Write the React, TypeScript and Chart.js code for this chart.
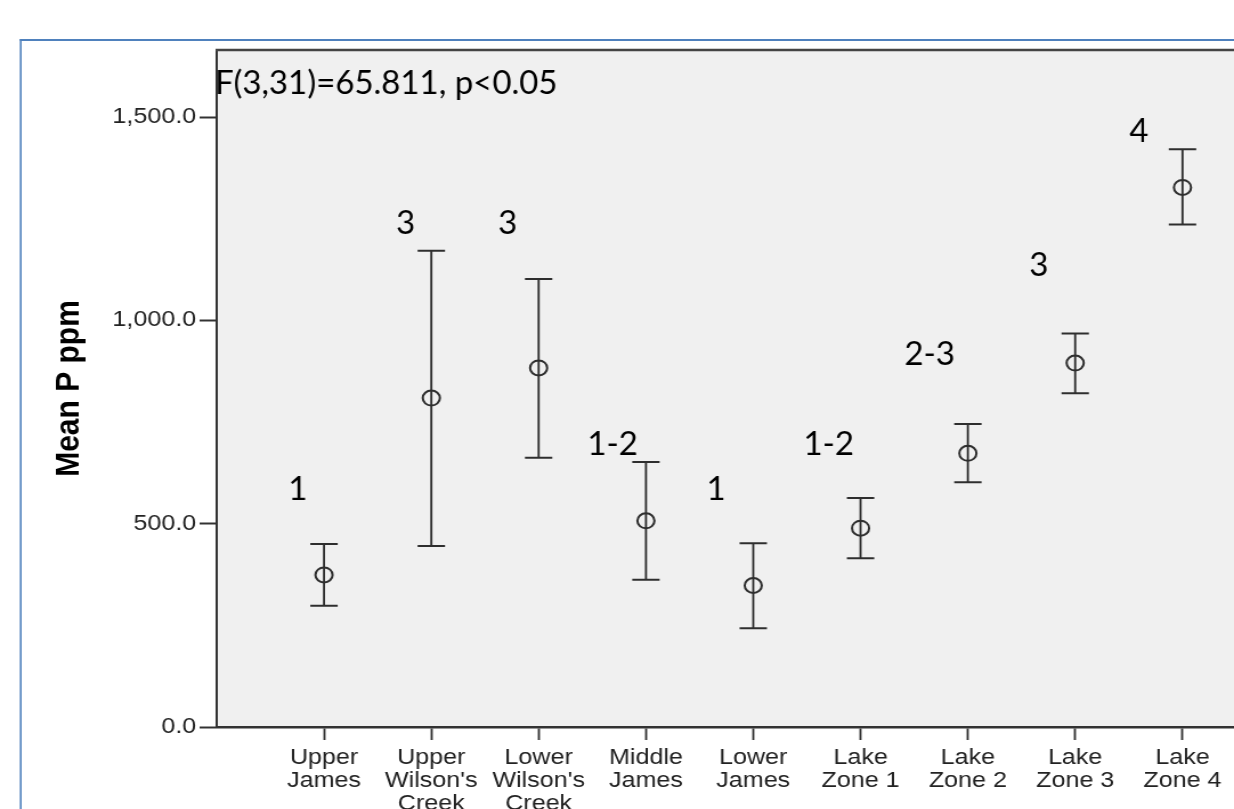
import React, { useEffect, useRef } from "react";
import { Chart, registerables } from "chart.js";

Chart.register(...registerables);

// ---------------- data ----------------
const categories = [
  "Upper James",
  "Upper Wilson's Creek",
  "Lower Wilson's Creek",
  "Middle James",
  "Lower James",
  "Lake Zone 1",
  "Lake Zone 2",
  "Lake Zone 3",
  "Lake Zone 4",
];
const categoryLines = [
  ["Upper", "James"],
  ["Upper", "Wilson's", "Creek"],
  ["Lower", "Wilson's", "Creek"],
  ["Middle", "James"],
  ["Lower", "James"],
  ["Lake", "Zone 1"],
  ["Lake", "Zone 2"],
  ["Lake", "Zone 3"],
  ["Lake", "Zone 4"],
];
const meanP = [374, 809, 883, 507, 348, 489, 673, 895, 1327];
const upperCI = [450, 1171, 1102, 652, 452, 563, 745, 968, 1421];
const lowerCI = [298, 445, 662, 362, 243, 415, 602, 821, 1236];

const groupLabels = ["1", "3", "3", "1-2", "1", "1-2", "2-3", "3", "4"];
const groupLabelX = [0.755, 1.761, 2.712, 3.69, 4.655, 5.704, 6.645, 7.661, 8.593];
const groupLabelY = [588, 1242, 1242, 698, 588, 698, 920, 1139, 1468];

const yTicks = [0, 500, 1000, 1500];
const yTickLabels = ["0.0", "500.0", "1,000.0", "1,500.0"];
const yMax = 1665;
const xMin = 0;
const xMax = 9.48;

const statText = "F(3,31)=65.811, p<0.05";
const yTitle = "Mean P ppm";

// ---------------- layout ----------------
const VIEW_W = 1234;
const VIEW_H = 809;
const CANVAS_W = 1082;
const SX = VIEW_W / CANVAS_W; // horizontal stretch of the original picture

const AXIS_FONT = "'Liberation Sans', Arial, sans-serif";
const NOTE_FONT = "Lato, 'Open Sans', sans-serif";

function drawNote(ctx: CanvasRenderingContext2D, text: string, x: number, cy: number, align: CanvasTextAlign) {
  ctx.save();
  ctx.translate(x, 0);
  ctx.scale(1 / SX, 1);
  ctx.font = `33px ${NOTE_FONT}`;
  ctx.textAlign = align;
  ctx.textBaseline = "alphabetic";
  ctx.fillStyle = "#000";
  const m = ctx.measureText(text);
  const asc = m.actualBoundingBoxAscent;
  const desc = m.actualBoundingBoxDescent;
  ctx.fillText(text, 0, cy + (asc - desc) / 2);
  ctx.restore();
}

const decorPlugin = {
  id: "decor",
  beforeDraw(chart: any) {
    const { ctx, chartArea: a, width, height } = chart;
    ctx.save();
    ctx.fillStyle = "#ffffff";
    ctx.fillRect(0, 0, width, height);
    // blue outer frame
    ctx.strokeStyle = "#4f81bd";
    ctx.lineWidth = 2;
    ctx.beginPath();
    ctx.moveTo(17.3, 40);
    ctx.lineTo(width, 40);
    ctx.stroke();
    ctx.lineWidth = 1.6;
    ctx.beginPath();
    ctx.moveTo(18.15, 39);
    ctx.lineTo(18.15, height);
    ctx.stroke();
    // plot background
    ctx.fillStyle = "#f0f0f0";
    ctx.fillRect(a.left, a.top, width - a.left, a.bottom - a.top);
    ctx.restore();
  },
  beforeDatasetsDraw(chart: any) {
    const { ctx } = chart;
    const xs = chart.scales.x;
    const ys = chart.scales.y;
    ctx.save();
    ctx.strokeStyle = "#2e2e2e";
    for (let i = 0; i < meanP.length; i++) {
      const px = xs.getPixelForValue(i + 1);
      const pTop = ys.getPixelForValue(upperCI[i]);
      const pBot = ys.getPixelForValue(lowerCI[i]);
      ctx.lineWidth = 1.85;
      ctx.beginPath();
      ctx.moveTo(px, pTop);
      ctx.lineTo(px, pBot);
      ctx.stroke();
      ctx.lineWidth = 2;
      ctx.beginPath();
      ctx.moveTo(px - 12, pTop);
      ctx.lineTo(px + 12, pTop);
      ctx.moveTo(px - 12, pBot);
      ctx.lineTo(px + 12, pBot);
      ctx.stroke();
    }
    ctx.restore();
  },
  afterDraw(chart: any) {
    const { ctx, chartArea: a, width } = chart;
    const xs = chart.scales.x;
    const ys = chart.scales.y;
    ctx.save();
    ctx.strokeStyle = "#444444";
    ctx.lineWidth = 2.5;
    ctx.beginPath();
    ctx.moveTo(a.left - 1, a.top);
    ctx.lineTo(width, a.top);
    ctx.stroke();
    ctx.restore();
    for (let i = 0; i < groupLabels.length; i++) {
      drawNote(ctx, groupLabels[i], xs.getPixelForValue(groupLabelX[i]), ys.getPixelForValue(groupLabelY[i]), "center");
    }
    drawNote(ctx, statText, a.left - 1.6, a.top + 34, "left");
  },
};

export default function App() {
  const ref = useRef<HTMLCanvasElement | null>(null);

  useEffect(() => {
    if (!ref.current) return;
    const chart = new Chart(ref.current, {
      type: "scatter",
      data: {
        datasets: [
          {
            label: "Mean P ppm",
            data: meanP.map((m, i) => ({ x: i + 1, y: m })),
            pointStyle: "circle",
            pointRadius: 7.5,
            pointHoverRadius: 7.5,
            pointBorderWidth: 2,
            pointBorderColor: "#2e2e2e",
            pointBackgroundColor: "rgba(0,0,0,0)",
            showLine: false,
            clip: false,
          },
        ],
      },
      options: {
        responsive: false,
        animation: false,
        devicePixelRatio: 1,
        events: [],
        layout: { autoPadding: false, padding: { left: 0, top: 50, right: 0, bottom: 0 } },
        plugins: {
          legend: { display: false },
          tooltip: { enabled: false },
        },
        scales: {
          x: {
            type: "linear",
            position: "bottom",
            min: xMin,
            max: xMax,
            afterBuildTicks: (scale: any) => {
              scale.ticks = categories.map((_, i) => ({ value: i + 1 }));
            },
            afterFit: (scale: any) => {
              scale.height = VIEW_H - 727;
            },
            ticks: {
              autoSkip: false,
              maxRotation: 0,
              minRotation: 0,
              padding: 6,
              color: "#222222",
              font: { family: AXIS_FONT, size: 22, lineHeight: 1.05 },
              callback: (v: any) => categoryLines[Number(v) - 1] || "",
            },
            grid: {
              display: true,
              drawOnChartArea: false,
              drawTicks: true,
              tickLength: 13,
              tickWidth: 1.85,
              tickColor: "#333333",
            },
            border: { display: true, color: "#333333", width: 2.5 },
          },
          y: {
            type: "linear",
            min: 0,
            max: yMax,
            afterBuildTicks: (scale: any) => {
              scale.ticks = yTicks.map((v) => ({ value: v }));
            },
            afterFit: (scale: any) => {
              scale.width = 190;
            },
            ticks: {
              padding: 3,
              color: "#222222",
              font: { family: AXIS_FONT, size: 22 },
              callback: (v: any) => {
                const k = yTicks.indexOf(Number(v));
                return k >= 0 ? yTickLabels[k] : "";
              },
            },
            grid: {
              display: true,
              drawOnChartArea: false,
              drawTicks: true,
              tickLength: 15,
              tickWidth: 2,
              tickColor: "#333333",
            },
            border: { display: true, color: "#333333", width: 2 },
            title: {
              display: true,
              text: yTitle,
              color: "#000000",
              font: { family: AXIS_FONT, size: 30, weight: "bold", lineHeight: 1.2 },
              padding: { top: 43, bottom: 0 },
            },
          },
        },
      },
      plugins: [decorPlugin],
    });
    return () => chart.destroy();
  }, []);

  return (
    <div
      style={{
        position: "fixed",
        left: 0,
        top: 0,
        width: VIEW_W,
        height: VIEW_H,
        overflow: "hidden",
        background: "#ffffff",
      }}
    >
      <canvas
        ref={ref}
        width={CANVAS_W}
        height={VIEW_H}
        style={{ display: "block", width: `${VIEW_W}px`, height: `${VIEW_H}px` }}
      />
    </div>
  );
}
